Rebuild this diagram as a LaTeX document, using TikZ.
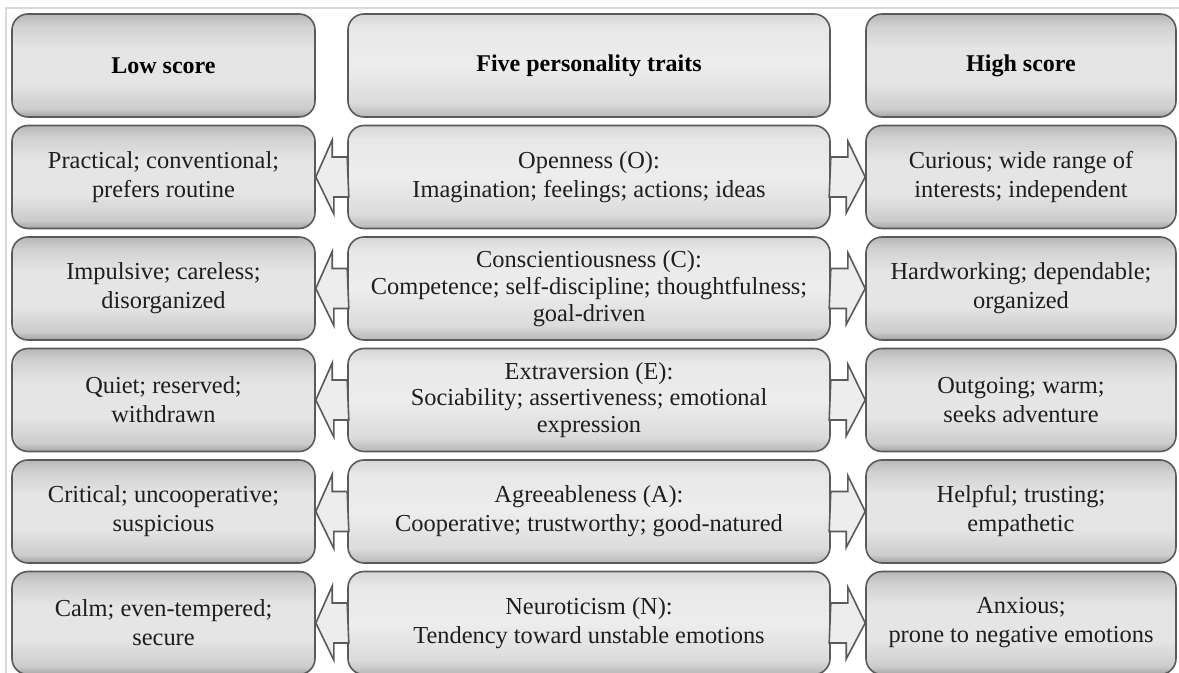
\documentclass[tikz,border=0pt]{standalone}
\usepackage{fontspec}
\setmainfont{Liberation Serif}
\usetikzlibrary{positioning}
\definecolor{edge}{HTML}{5A5A5A}
\definecolor{ink}{HTML}{1E1E1E}
\definecolor{arrowfill}{HTML}{EDEDED}
\pgfdeclareverticalshading{sidegrey}{100bp}{color(0bp)=(black!36); color(25bp)=(black!36);
  color(29bp)=(black!20); color(42bp)=(black!10); color(58bp)=(black!10);
  color(69bp)=(black!18); color(75bp)=(black!28); color(100bp)=(black!28)}
\pgfdeclareverticalshading{midgrey}{100bp}{color(0bp)=(black!28); color(25bp)=(black!28);
  color(32bp)=(black!14); color(50bp)=(black!7); color(68bp)=(black!9);
  color(75bp)=(black!16); color(100bp)=(black!16)}

\begin{document}
\begin{tikzpicture}[
  node distance=3.45pt,
  box/.style={rounded corners=8pt,draw=edge,line width=0.8pt,minimum height=51.5pt,
              align=center,text=ink,font=\fontsize{12.2}{14.5}\selectfont},
  lowbox/.style={box,shade,shading=sidegrey,minimum width=151.5pt},
  traitbox/.style={box,shade,shading=midgrey,minimum width=241pt},
  highbox/.style={box,shade,shading=sidegrey,minimum width=155pt},
  threelines/.style={font=\fontsize{12.2}{13.4}\selectfont},
  headtext/.style={font=\fontsize{12}{14}\selectfont\bfseries,text=black},
  fatarrow/.style={draw=edge,fill=arrowfill,line width=0.8pt,line join=miter}
]
\useasboundingbox (0,0) rectangle (589.5pt,-336.5pt);
\draw[black!15,line width=0.6pt] (3pt,-336.5pt) |- (589.5pt,-4pt);

% header row
\node[lowbox,headtext] (lh) at (81.75pt,-32.75pt) {Low score};
\node[traitbox,headtext,right=15.7pt of lh] (mh) {Five personality traits};
\node[highbox,headtext,right=17.2pt of mh] (rh) {High score};

% traits
\node[traitbox,below=of mh] (m1) {Openness (O):\\Imagination; feelings; actions; ideas};
\node[traitbox,threelines,below=of m1] (m2) {Conscientiousness (C):\\Competence; self-discipline; thoughtfulness;\\goal-driven};
\node[traitbox,threelines,below=of m2] (m3) {Extraversion (E):\\Sociability; assertiveness; emotional\\expression};
\node[traitbox,below=of m3] (m4) {Agreeableness (A):\\Cooperative; trustworthy; good-natured};
\node[traitbox,below=of m4] (m5) {Neuroticism (N):\\Tendency toward unstable emotions};

% low scores
\node[lowbox,below=of lh] (l1) {Practical; conventional;\\prefers routine};
\node[lowbox,below=of l1] (l2) {Impulsive; careless;\\disorganized};
\node[lowbox,below=of l2] (l3) {Quiet; reserved;\\withdrawn};
\node[lowbox,below=of l3] (l4) {Critical; uncooperative;\\suspicious};
\node[lowbox,below=of l4] (l5) {Calm; even-tempered;\\secure};

% high scores
\node[highbox,below=of rh] (r1) {Curious; wide range of\\interests; independent};
\node[highbox,below=of r1] (r2) {Hardworking; dependable;\\organized};
\node[highbox,below=of r2] (r3) {Outgoing; warm;\\seeks adventure};
\node[highbox,below=of r3] (r4) {Helpful; trusting;\\empathetic};
\node[highbox,below=of r4] (r5) {Anxious;\\prone to negative emotions};

% block arrows
\foreach \r in {1,...,5}{
  \draw[fatarrow] (m\r.west) ++(0,10pt) -- ++(-7.5pt,0) -- ++(0,8.5pt) -- (l\r.east)
    -- ++(9pt,-18.5pt) -- ++(0,8.5pt) -- ++(7.5pt,0) -- cycle;
  \draw[fatarrow] (m\r.east) ++(0,10pt) -- ++(8.5pt,0) -- ++(0,8pt) -- (r\r.west)
    -- ++(-9.5pt,-18pt) -- ++(0,8pt) -- ++(-8.5pt,0) -- cycle;
}
\end{tikzpicture}
\end{document}
